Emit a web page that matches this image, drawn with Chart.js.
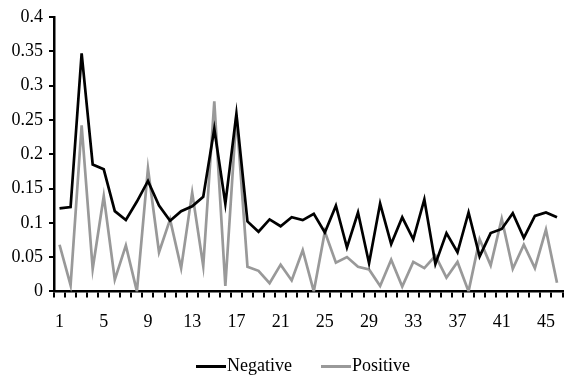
<!DOCTYPE html>
<html>
<head>
<meta charset="utf-8">
<script src="https://cdn.jsdelivr.net/npm/chart.js@4/dist/chart.umd.min.js"></script>
<style>
  html, body { margin: 0; padding: 0; background: #fff; overflow: hidden; }
  #wrap { width: 571px; height: 385px; position: relative; }
</style>
</head>
<body>
<div id="wrap"><canvas id="c"></canvas></div>
<script>
const categories = Array.from({length: 46}, (_, i) => String(i + 1));
const negative = [0.121, 0.123, 0.347, 0.185, 0.178, 0.117, 0.104, 0.131, 0.161, 0.125,
                  0.103, 0.117, 0.124, 0.138, 0.237, 0.128, 0.259, 0.102, 0.087, 0.105,
                  0.095, 0.108, 0.104, 0.113, 0.086, 0.125, 0.064, 0.115, 0.041, 0.128,
                  0.069, 0.108, 0.076, 0.134, 0.040, 0.085, 0.057, 0.115, 0.051, 0.085,
                  0.091, 0.114, 0.078, 0.110, 0.115, 0.108];
const positive = [0.068, 0.009, 0.242, 0.033, 0.139, 0.017, 0.067, 0.000, 0.179, 0.057,
                  0.105, 0.034, 0.144, 0.037, 0.277, 0.008, 0.257, 0.036, 0.030, 0.012,
                  0.039, 0.016, 0.060, 0.000, 0.087, 0.042, 0.050, 0.036, 0.032, 0.008,
                  0.046, 0.007, 0.043, 0.034, 0.052, 0.020, 0.043, 0.000, 0.076, 0.038,
                  0.106, 0.033, 0.068, 0.034, 0.090, 0.0125];
const seriesNames = ['Negative', 'Positive'];
const yTickMax = 0.4;
const yTickStep = 0.05;

const FONT = "'Liberation Serif', 'Times New Roman', serif";
const FS = 18;
const LEG_BOX = 41;
const LEG_SHIFT = 16;

const legendLines = {
  id: 'legendLines',
  afterUpdate(chart) {
    const lg = chart.legend;
    if (!lg) return;
    lg.left += LEG_SHIFT;
  },
  afterDraw(chart) {
    const lg = chart.legend;
    if (!lg || !lg.legendHitBoxes) return;
    const ctx = chart.ctx;
    lg.legendHitBoxes.forEach((hb, i) => {
      const ds = chart.data.datasets[i];
      const textX = hb.left + LEG_SHIFT / 2 + LEG_BOX + FS / 2;
      const y = Math.round(hb.top + hb.height / 2) + 0.5;
      ctx.save();
      ctx.strokeStyle = ds.borderColor;
      ctx.lineWidth = 3;
      ctx.beginPath();
      ctx.moveTo(textX - 31, y);
      ctx.lineTo(textX - 1, y);
      ctx.stroke();
      ctx.restore();
    });
  }
};

new Chart(document.getElementById('c'), {
  type: 'line',
  data: {
    labels: categories,
    datasets: [
      { label: seriesNames[0], data: negative, borderColor: '#000000', backgroundColor: '#000000',
        borderWidth: 2.7, pointRadius: 0, tension: 0, fill: false },
      { label: seriesNames[1], data: positive, borderColor: '#999999', backgroundColor: '#999999',
        borderWidth: 2.7, pointRadius: 0, tension: 0, fill: false }
    ]
  },
  plugins: [legendLines],
  options: {
    responsive: true,
    maintainAspectRatio: false,
    animation: false,
    layout: { padding: { left: 0, right: 0, top: 17, bottom: 0 } },
    plugins: {
      tooltip: { enabled: false },
      legend: {
        position: 'bottom',
        labels: {
          font: { family: FONT, size: FS },
          color: '#000',
          boxWidth: LEG_BOX,
          boxHeight: 3,
          padding: 10,
          generateLabels(chart) {
            return chart.data.datasets.map((ds, i) => ({
              text: ds.label, fillStyle: 'rgba(0,0,0,0)', strokeStyle: 'rgba(0,0,0,0)',
              lineWidth: 0, hidden: false, datasetIndex: i, fontColor: '#000'
            }));
          }
        }
      }
    },
    scales: {
      x: {
        type: 'category',
        offset: true,
        border: { display: true, color: '#000', width: 2.5 },
        grid: { display: true, drawOnChartArea: false, drawTicks: true, tickLength: 6,
                color: '#000', lineWidth: 2, offset: true },
        ticks: {
          autoSkip: false, maxRotation: 0, color: '#000', padding: 14,
          font: { family: FONT, size: FS },
          callback(val, idx) { return idx % 4 === 0 ? categories[idx] : ''; }
        }
      },
      y: {
        min: 0, max: yTickMax,
        afterFit(scale) { scale.width = 54; },
        border: { display: true, color: '#000', width: 2.5 },
        grid: { display: true, drawOnChartArea: false, drawTicks: true, tickLength: 5,
                color: '#000', lineWidth: 2 },
        ticks: {
          stepSize: yTickStep, color: '#000', padding: 6,
          font: { family: FONT, size: FS },
          callback(v) { return String(+Number(v).toFixed(2)); }
        }
      }
    }
  }
});
</script>
</body>
</html>
